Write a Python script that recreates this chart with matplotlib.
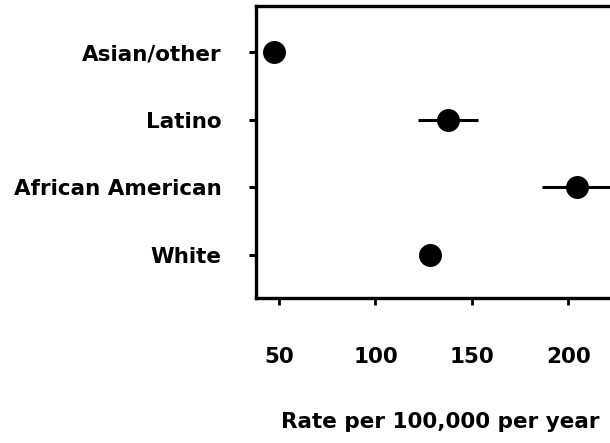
import matplotlib
matplotlib.use("Agg")
import matplotlib.pyplot as plt

# Incidence rates by group, with 95% confidence limits
groups = ["White", "African American", "Latino", "Asian/other"]
rates = [128.4, 204.8, 137.7, 47.4]
lower = [125.0, 186.3, 122.1, 45.0]
upper = [132.0, 223.3, 153.3, 50.0]
x_ticks = [50, 100, 150, 200]

plt.rcParams["font.family"] = ["DejaVu Sans"]
plt.rcParams["font.weight"] = "bold"

fig = plt.figure(figsize=(6.1, 4.43), dpi=100)
ax = fig.add_axes([0.4197, 0.3273, 0.6046, 0.6592])

ypos = list(range(len(groups)))
xerr = [[r - lo for r, lo in zip(rates, lower)],
        [hi - r for r, hi in zip(rates, upper)]]
ax.errorbar(rates, ypos, xerr=xerr, fmt="o", color="black",
            markersize=15.5, elinewidth=2.2, capsize=0, zorder=3)

ax.set_xlim(38.0, 229.4)
ax.set_ylim(-0.635, 3.68)
ax.set_xticks(x_ticks)
ax.set_xticklabels([str(t) for t in x_ticks], fontsize=15.5, fontweight="bold")
ax.set_yticks(ypos)
ax.set_yticklabels(groups, fontsize=15.5, fontweight="bold")

ax.tick_params(axis="x", direction="out", length=5, width=2, pad=30)
ax.tick_params(axis="y", direction="out", length=5, width=2.2, pad=20)

for side in ["left", "bottom", "top"]:
    ax.spines[side].set_linewidth(2.4)
ax.spines["right"].set_visible(False)

ax.set_xlabel("Rate per 100,000 per year", fontsize=15.5, fontweight="bold",
              labelpad=33)

fig.savefig("out.png", dpi=100)
